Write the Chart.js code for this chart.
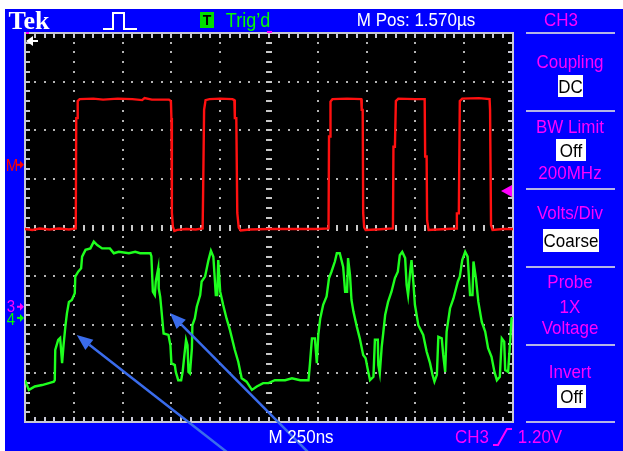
<!DOCTYPE html>
<html>
<head>
<meta charset="utf-8">
<script src="https://cdn.jsdelivr.net/npm/chart.js@4.4.1/dist/chart.umd.min.js"></script>
<style>
  html, body { margin: 0; padding: 0; background: #fff; }
  #wrap { position: relative; width: 623px; height: 451px; overflow: hidden; }
  #wrap canvas { position: absolute; left: 0; top: 0; }
  .t { position: absolute; white-space: nowrap; line-height: 1;
       font-family: "Liberation Sans", Arial, sans-serif; font-size: 17px;
       transform: translate(-50%, -50%) scaleY(1.12); }
  .box { position: absolute; background: #fff; color: #000; line-height: 1;
         font-family: "Liberation Sans", Arial, sans-serif; font-size: 17px;
         display: flex; align-items: center; justify-content: center; }
</style>
</head>
<body>
<div id="wrap"><canvas id="scope" width="623" height="451"></canvas></div>
<script>
// Horizontal position in divisions (10 div across, 250 ns/div)
// and vertical level in divisions (8 div tall, 0 = bottom of screen).
const ch3Time = [0.00,0.15,0.30,0.50,0.70,0.90,1.04,1.05,1.07,1.08,1.12,1.40,1.60,1.90,2.20,2.40,2.45,2.60,2.95,2.99,3.00,3.01,3.03,3.06,3.12,3.30,3.50,3.64,
  3.65,3.66,3.67,3.70,3.78,4.00,4.25,4.29,4.30,4.33,4.35,4.38,4.42,4.60,5.00,5.50,6.00,6.22,
  6.23,6.25,6.26,6.30,6.60,6.89,6.90,6.92,6.93,6.95,6.98,7.20,7.54,
  7.55,7.58,7.60,7.65,8.00,8.19,8.20,8.23,8.24,8.27,8.45,8.84,
  8.85,8.89,8.91,8.96,9.30,9.52,9.53,9.55,9.58,9.80,10.0];
const ch3Level = [3.97,3.95,3.98,3.96,3.98,3.96,3.98,6.25,6.25,6.60,6.64,6.65,6.63,6.65,6.64,6.62,6.66,6.63,6.63,6.60,6.25,4.30,4.02,3.93,3.95,3.97,3.96,3.98,
  4.72,4.72,6.42,6.62,6.64,6.65,6.64,6.62,6.25,6.25,4.30,4.00,3.94,3.96,3.97,3.97,3.97,3.98,
  5.87,5.87,6.59,6.64,6.65,6.64,6.42,6.42,4.30,4.00,3.95,3.96,3.98,
  5.66,5.66,6.60,6.65,6.64,6.64,5.46,5.46,4.15,3.95,3.96,3.98,
  4.29,4.29,6.60,6.65,6.66,6.64,6.42,4.05,3.95,3.97,3.97];

const ch4Time = [0,0.08,0.20,0.35,0.49,0.59,0.61,0.62,0.68,0.72,
  0.76,0.79,0.83,0.86,0.90,0.96,1.02,1.03,1.09,1.15,
  1.17,1.24,1.34,1.41,1.48,1.58,1.74,1.82,1.92,2.13,
  2.26,2.36,2.57,2.59,2.62,2.66,2.68,2.73,2.74,2.77,
  2.79,2.84,2.94,2.98,3.00,3.07,3.09,3.14,3.20,3.23,
  3.27,3.30,3.33,3.35,3.38,3.42,3.43,3.48,3.52,3.59,
  3.62,3.69,3.76,3.81,3.86,3.91,3.94,3.96,4.00,4.06,
  4.13,4.20,4.30,4.37,4.44,4.54,4.65,4.75,4.88,4.99,
  5.12,5.33,5.47,5.64,5.81,5.84,5.88,5.94,5.98,6.01,
  6.05,6.11,6.18,6.23,6.28,6.35,6.39,6.45,6.52,6.56,
  6.60,6.62,6.66,6.69,6.73,6.80,6.86,6.93,6.98,7.02,
  7.07,7.14,7.17,7.23,7.24,7.27,7.31,7.34,7.38,7.44,
  7.51,7.58,7.64,7.68,7.73,7.79,7.82,7.85,7.89,7.92,
  7.96,7.99,8.06,8.16,8.23,8.30,8.35,8.39,8.44,8.47,
  8.54,8.57,8.61,8.64,8.71,8.78,8.87,8.91,8.96,9.02,
  9.07,9.12,9.17,9.19,9.24,9.29,9.36,9.43,9.49,9.56,
  9.62,9.67,9.73,9.77,9.82,9.84,9.90,9.95,9.97,10.0];
const ch4Level = [0.86,0.66,0.73,0.76,0.80,0.83,0.86,1.48,1.69,1.73,
  1.21,1.58,1.99,2.24,2.47,2.51,2.65,2.99,3.09,3.16,
  3.40,3.54,3.57,3.71,3.64,3.57,3.57,3.47,3.50,3.47,
  3.50,3.47,3.47,3.41,2.68,2.61,2.89,3.16,2.75,2.58,
  2.37,1.82,1.79,1.58,1.21,1.17,1.03,0.86,0.86,1.03,
  1.41,1.69,1.58,1.03,1.00,1.52,1.99,2.13,2.37,2.61,
  2.89,2.99,3.33,3.52,3.40,2.61,2.61,3.33,2.68,2.41,
  2.13,1.89,1.48,1.24,0.90,0.83,0.66,0.73,0.80,0.80,
  0.86,0.86,0.90,0.86,0.86,1.21,1.72,1.72,1.21,1.79,
  2.13,2.41,2.58,2.96,3.09,3.30,3.47,3.47,3.19,2.68,
  2.68,3.37,3.02,2.51,2.27,1.96,1.72,1.38,1.31,1.10,
  0.86,0.93,1.69,1.69,1.17,1.00,1.55,1.82,2.20,2.47,
  2.68,2.96,3.09,3.43,3.50,3.37,2.82,2.61,3.06,3.33,
  2.85,2.41,1.99,1.79,1.45,1.21,0.97,0.83,0.97,1.75,
  1.72,1.38,1.03,1.86,2.34,2.54,2.89,2.99,3.33,3.50,
  3.40,2.61,2.61,3.30,2.96,2.47,2.06,1.86,1.52,1.34,
  1.03,0.86,0.93,1.72,1.65,1.07,1.03,1.79,2.13,2.14];

// Channel reference markers (division levels) and annotation arrows (tip, tail)
const markerLevels = { M: 5.29, ch3: 2.37, ch4: 2.14, trig: 4.75 };
const pointers = [
  { tip: [1.06, 1.79], tail: [4.14, -0.62] },
  { tip: [2.97, 2.24], tail: [5.80, -0.62] }
];

const toXY = (t, v) => t.map((x, i) => ({ x, y: v[i] }));

const wrap = document.getElementById('wrap');
function label(text, cx, cy, color, opts = {}) {
  const d = document.createElement('div');
  d.className = 't';
  d.textContent = text;
  d.style.left = cx + 'px';
  d.style.top = cy + 'px';
  d.style.color = color;
  if (opts.size) d.style.fontSize = opts.size + 'px';
  if (opts.family) d.style.fontFamily = opts.family;
  if (opts.weight) d.style.fontWeight = opts.weight;
  if (opts.sy) d.style.transform = 'translate(-50%,-50%) scaleY(' + opts.sy + ')';
  wrap.appendChild(d);
}
function box(text, x0, y0, x1, y1) {
  const d = document.createElement('div');
  d.className = 'box';
  d.style.left = x0 + 'px'; d.style.top = y0 + 'px';
  d.style.width = (x1 - x0) + 'px'; d.style.height = (y1 - y0) + 'px';
  const s = document.createElement('span');
  s.textContent = text;
  s.style.display = 'inline-block';
  s.style.transform = 'scaleY(1.12)';
  d.appendChild(s);
  wrap.appendChild(d);
}

const MAG = '#ff00ff';
const scopeDecor = {
  id: 'scopeDecor',
  beforeDraw(chart) {
    const { ctx, chartArea: a } = chart;
    ctx.save();
    ctx.fillStyle = '#ffffff';
    ctx.fillRect(0, 0, chart.width, chart.height);
    ctx.fillStyle = '#0000ff';
    ctx.fillRect(5, 9, chart.width - 5, chart.height - 9);
    ctx.fillStyle = '#000000';
    ctx.fillRect(a.left, a.top, a.right - a.left, a.bottom - a.top);
    ctx.restore();
  },
  beforeDatasetsDraw(chart) {
    const { ctx, chartArea: a, scales: { x: xs, y: ys } } = chart;
    const px = v => Math.round(xs.getPixelForValue(v));
    const py = v => Math.round(ys.getPixelForValue(v));
    ctx.save();
    ctx.fillStyle = '#b4b4b4';
    for (let i = 1; i < 10; i++) {
      if (i === 5) continue;
      for (let j = 1; j < 40; j++) ctx.fillRect(px(i) - 1, py(j * 0.2) - 1, 2, 2);
    }
    for (let k = 1; k < 8; k++) {
      if (k === 4) continue;
      for (let j = 1; j < 50; j++) ctx.fillRect(px(j * 0.2) - 1, py(k) - 1, 2, 2);
    }
    ctx.fillStyle = '#c8c8c8';
    for (let j = 1; j < 40; j++) ctx.fillRect(px(5) - 3, py(j * 0.2) - 1, 6, 2);
    for (let j = 1; j < 50; j++) ctx.fillRect(px(j * 0.2) - 1, py(4) - 3, 2, 6);
    // frame with minor ticks
    ctx.fillStyle = '#c8c8d4';
    for (let j = 1; j < 50; j++) {
      ctx.fillRect(px(j * 0.2) - 1, a.top, 2, 5);
      ctx.fillRect(px(j * 0.2) - 1, a.bottom - 5, 2, 5);
    }
    for (let j = 1; j < 40; j++) {
      ctx.fillRect(a.left, py(j * 0.2) - 1, 5, 2);
      ctx.fillRect(a.right - 5, py(j * 0.2) - 1, 5, 2);
    }
    ctx.strokeStyle = '#c8c8d4';
    ctx.lineWidth = 2;
    ctx.strokeRect(a.left, a.top, a.right - a.left, a.bottom - a.top);
    ctx.restore();
  },
  afterDatasetsDraw(chart) {
    const { ctx, chartArea: a, scales: { x: xs, y: ys } } = chart;
    const px = v => xs.getPixelForValue(v);
    const py = v => ys.getPixelForValue(v);
    ctx.save();
    // trigger position markers on the top edge
    ctx.fillStyle = MAG;
    ctx.fillRect(px(5) - 2, a.top - 2, 5, 2);
    ctx.fillRect(a.left + 1, a.top - 1, 3, 2);
    // white left arrow (pretrigger) at top-left
    ctx.fillStyle = '#ffffff';
    const wy = a.top + 8;
    ctx.beginPath();
    ctx.moveTo(a.left + 1, wy); ctx.lineTo(a.left + 8, wy - 5); ctx.lineTo(a.left + 8, wy + 5); ctx.closePath();
    ctx.fill();
    ctx.fillRect(a.left + 8, wy - 1, 5, 2);
    // trigger level marker on right edge
    ctx.fillStyle = MAG;
    const ty = py(markerLevels.trig);
    ctx.beginPath();
    ctx.moveTo(a.right - 12, ty); ctx.lineTo(a.right - 1, ty - 6); ctx.lineTo(a.right - 1, ty + 6); ctx.closePath();
    ctx.fill();
    // channel ground markers on the left
    const sideArrow = (lvl, col) => {
      const y = py(lvl);
      ctx.fillStyle = col;
      ctx.fillRect(a.left - 8, y - 1, 4, 2);
      ctx.beginPath();
      ctx.moveTo(a.left - 1, y); ctx.lineTo(a.left - 5, y - 4); ctx.lineTo(a.left - 5, y + 4); ctx.closePath();
      ctx.fill();
    };
    sideArrow(markerLevels.M, '#ff0000');
    sideArrow(markerLevels.ch3, MAG);
    sideArrow(markerLevels.ch4, '#00ff00');
    ctx.restore();
  },
  afterDraw(chart) {
    const { ctx, scales: { x: xs, y: ys } } = chart;
    const px = v => xs.getPixelForValue(v);
    const py = v => ys.getPixelForValue(v);
    ctx.save();
    // annotation pointers
    ctx.strokeStyle = '#3a6cec';
    ctx.fillStyle = '#3a6cec';
    ctx.lineWidth = 2.5;
    pointers.forEach(p => {
      const x1 = px(p.tip[0]), y1 = py(p.tip[1]);
      const x0 = px(p.tail[0]), y0 = py(p.tail[1]);
      const ang = Math.atan2(y1 - y0, x1 - x0);
      const L = 16, W = 6.5;
      const bx = x1 - L * Math.cos(ang), by = y1 - L * Math.sin(ang);
      ctx.beginPath(); ctx.moveTo(x0, y0); ctx.lineTo(bx, by); ctx.stroke();
      ctx.beginPath();
      ctx.moveTo(x1, y1);
      ctx.lineTo(bx + W * Math.sin(ang), by - W * Math.cos(ang));
      ctx.lineTo(bx - W * Math.sin(ang), by + W * Math.cos(ang));
      ctx.closePath(); ctx.fill();
    });
    // pulse-width trigger icon in the header
    ctx.strokeStyle = '#ffffff';
    ctx.lineWidth = 2;
    ctx.beginPath();
    ctx.moveTo(103, 29); ctx.lineTo(113, 29); ctx.lineTo(113, 13); ctx.lineTo(124, 13);
    ctx.lineTo(124, 29); ctx.lineTo(137, 29);
    ctx.stroke();
    // trigger status badge
    ctx.fillStyle = '#00e000';
    ctx.fillRect(200, 12, 14, 16);
    // rising slope symbol in the footer
    ctx.strokeStyle = MAG;
    ctx.lineWidth = 2;
    ctx.beginPath();
    ctx.moveTo(493, 445); ctx.lineTo(498, 445); ctx.lineTo(507, 429); ctx.lineTo(512, 429);
    ctx.stroke();
    // side menu separators
    ctx.fillStyle = '#b4b4e6';
    [33, 111, 189, 267, 345, 422].forEach(y => ctx.fillRect(526, y - 1, 89, 2));
    ctx.restore();
  }
};

new Chart(document.getElementById('scope'), {
  type: 'line',
  data: {
    datasets: [
      { label: 'CH4', data: toXY(ch4Time, ch4Level), borderColor: '#1eff1e', borderWidth: 2.4,
        pointRadius: 0, tension: 0, fill: false },
      { label: 'CH3', data: toXY(ch3Time, ch3Level), borderColor: '#ff1010', borderWidth: 2.4,
        pointRadius: 0, tension: 0, fill: false }
    ]
  },
  options: {
    responsive: false,
    animation: false,
    devicePixelRatio: 1,
    layout: { padding: { left: 25, right: 110, top: 33, bottom: 29 } },
    scales: {
      x: { type: 'linear', min: 0, max: 10, display: false },
      y: { type: 'linear', min: 0, max: 8, display: false }
    },
    plugins: { legend: { display: false }, tooltip: { enabled: false } }
  },
  plugins: [scopeDecor]
});

// header
label('Tek', 29, 21, '#ffffff', { family: '"Liberation Serif", "Times New Roman", serif', weight: 'bold', size: 26, sy: 1 });
label('T', 207, 20, '#000000', { size: 14, weight: 'bold', sy: 1 });
label('Trig\u2019d', 248, 20, '#00ff00', { size: 18 });
label('M Pos: 1.570\u00b5s', 416, 20, '#ffffff');
label('CH3', 561, 20, MAG);
// side menu
label('Coupling', 570, 62, MAG);
box('DC', 558, 75, 583, 97);
label('BW Limit', 570, 127, MAG);
box('Off', 556, 139, 586, 161);
label('200MHz', 570, 173, MAG);
label('Volts/Div', 570, 213, MAG);
box('Coarse', 543, 229, 599, 252);
label('Probe', 570, 282, MAG);
label('1X', 570, 307, MAG);
label('Voltage', 570, 328, MAG);
label('Invert', 570, 372, MAG);
box('Off', 557, 385, 586, 408);
// channel marker labels
label('M', 12, 165, '#ff0000', { size: 15 });
label('3', 11, 306, MAG, { size: 15 });
label('4', 11, 319, '#00ff00', { size: 15 });
// footer
label('M 250ns', 301, 437, '#ffffff');
label('CH3', 472, 437, MAG);
label('1.20V', 540, 437, MAG);
</script>
</body>
</html>
